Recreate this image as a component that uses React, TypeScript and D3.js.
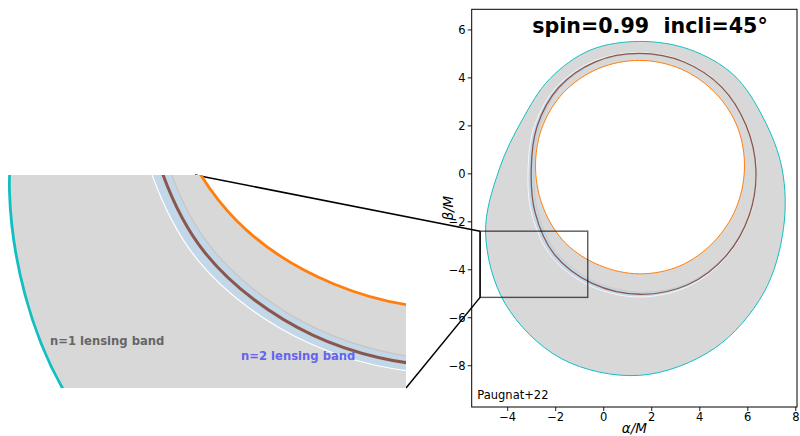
import React from 'react';
import * as d3 from 'd3';

type P = [number, number];

const titleText = 'spin=0.99\u00A0\u00A0incli=45°';
const creditText = 'Paugnat+22';
const xLabel = 'α/M';
const yLabel = 'β/M';
const n1Label = 'n=1 lensing band';
const n2Label = 'n=2 lensing band';

const xTicks = [-4, -2, 0, 2, 4, 6, 8];
const yTicks = [-8, -6, -4, -2, 0, 2, 4, 6];
const xDomain: P = [-5.5, 8.05];
const yDomain: P = [-9.72, 6.86];

// All closed curves are read as radius (in M) at fixed polar angles (degrees)
// around the point curveCenter.
const curveCenter: P = [1.5, 0.2];
const angles = [0, 22.5, 45, 67.5, 90, 112.5, 135, 157.5, 180, 202.5, 225, 247.5, 270, 292.5, 315, 337.5];

// outer edge of the n=1 lensing band (cyan)
const n1OuterR = [5.93, 5.57, 5.54, 5.4, 5.32, 5.37, 5.31, 5.31, 5.85, 6.95, 7.93, 8.55, 8.6, 8.1, 7.3, 6.48];
// inner edge of the n=1 lensing band (orange)
const n1InnerR = [4.36, 4.43, 4.47, 4.51, 4.53, 4.53, 4.5, 4.42, 4.34, 4.33, 4.37, 4.35, 4.37, 4.37, 4.33, 4.33];
// critical curve (brown)
const critR = [4.84, 4.79, 4.83, 4.83, 4.82, 4.84, 4.79, 4.63, 4.52, 4.72, 5.03, 5.16, 5.22, 5.22, 5.1, 4.95];
// n=2 lensing band: widths outside / inside the critical curve
const n2OuterW = [0.02, 0.02, 0.02, 0.025, 0.03, 0.05, 0.08, 0.11, 0.13, 0.15, 0.15, 0.13, 0.11, 0.07, 0.04, 0.025];
const n2InnerW = [0.02, 0.02, 0.02, 0.02, 0.025, 0.04, 0.06, 0.09, 0.11, 0.12, 0.12, 0.11, 0.09, 0.06, 0.035, 0.02];

// zoom rectangle drawn on the main panel
const zoomX: P = [-5.15, -0.667];
const zoomY: P = [-5.15, -2.39];
// region shown in the inset
const insetX: P = [-5.06, 0.893];
const insetY: P = [-5.343, -2.22];

const C = {
  fill: '#d8d8d8',
  band2: '#c2d7e8',
  cyan: '#12bfc0',
  orange: '#ff7f0e',
  brown: '#8c564b',
  inner2: '#c9c5c2',
  n1Text: '#666666',
  n2Text: '#6464ee',
};

const FONT = 'DejaVu Sans, sans-serif';

function toPoints(radii: number[]): P[] {
  return radii.map((r, i) => {
    const a = (angles[i] * Math.PI) / 180;
    return [curveCenter[0] + r * Math.cos(a), curveCenter[1] + r * Math.sin(a)] as P;
  });
}

const n1Outer = toPoints(n1OuterR);
const n1Inner = toPoints(n1InnerR);
const critCurve = toPoints(critR);
const n2Outer = toPoints(critR.map((r, i) => r + n2OuterW[i]));
const n2Inner = toPoints(critR.map((r, i) => r - n2InnerW[i]));

function Curves({ x, y, inset }: { x: d3.ScaleLinear<number, number>; y: d3.ScaleLinear<number, number>; inset: boolean }) {
  const line = d3
    .line<P>()
    .x((d) => x(d[0]))
    .y((d) => y(d[1]))
    .curve(d3.curveCatmullRomClosed.alpha(0.5));
  const outer = line(n1Outer) || '';
  const inner = line(n1Inner) || '';
  const b2o = line(n2Outer) || '';
  const b2i = line(n2Inner) || '';
  const lw = inset ? 2.8 : 1;
  return (
    <g>
      <path d={outer + inner} fill={C.fill} fillRule="evenodd" stroke="none" />
      <path d={b2o + b2i} fill={C.band2} fillRule="evenodd" stroke="none" />
      <path d={b2o} fill="none" stroke="#ffffff" strokeWidth={inset ? 1.2 : 0.8} />
      <path d={b2i} fill="none" stroke={C.inner2} strokeWidth={inset ? 1.2 : 0.7} />
      <path d={line(critCurve) || ''} fill="none" stroke={C.brown} strokeWidth={inset ? 3 : 1.3} />
      <path d={inner} fill="none" stroke={C.orange} strokeWidth={lw} />
      <path d={outer} fill="none" stroke={C.cyan} strokeWidth={lw} />
    </g>
  );
}

export default function App() {
  const W = 800;
  const H = 436;
  const ax = { l: 471.7, r: 797, t: 9.3, b: 407 };
  const x = d3.scaleLinear().domain(xDomain).range([ax.l, ax.r]);
  const y = d3.scaleLinear().domain(yDomain).range([ax.b, ax.t]);

  const ins = { l: 0, r: 406, t: 175, b: 388 };
  const ix = d3.scaleLinear().domain(insetX).range([ins.l, ins.r]);
  const iy = d3.scaleLinear().domain(insetY).range([ins.b, ins.t]);

  const fmt = (v: number) => d3.format('d')(v).replace('-', '−');

  const rx0 = x(zoomX[0]);
  const rx1 = x(zoomX[1]);
  const ry0 = y(zoomY[1]);
  const ry1 = y(zoomY[0]);

  return (
    <svg
      width={W}
      height={H}
      viewBox={`0 0 ${W} ${H}`}
      style={{ position: 'absolute', left: 0, top: 0, background: '#fff' }}
      fontFamily={FONT}
    >
      <defs>
        <clipPath id="mainClip">
          <rect x={ax.l} y={ax.t} width={ax.r - ax.l} height={ax.b - ax.t} />
        </clipPath>
        <clipPath id="insetClip">
          <rect x={ins.l} y={ins.t} width={ins.r - ins.l} height={ins.b - ins.t} />
        </clipPath>
      </defs>
      <rect x={0} y={0} width={W} height={H} fill="#fff" />

      {/* main panel */}
      <g clipPath="url(#mainClip)">
        <Curves x={x} y={y} inset={false} />
      </g>
      <rect x={ax.l} y={ax.t} width={ax.r - ax.l} height={ax.b - ax.t} fill="none" stroke="#000" strokeWidth={1} />

      {/* ticks */}
      {xTicks.map((t) => (
        <g key={'x' + t}>
          <line x1={x(t)} x2={x(t)} y1={ax.b} y2={ax.b + 4} stroke="#000" strokeWidth={0.9} />
          <text x={x(t)} y={420.5} fontSize={11.5} textAnchor="middle" fill="#000">
            {fmt(t)}
          </text>
        </g>
      ))}
      {yTicks.map((t) => (
        <g key={'y' + t}>
          <line x1={ax.l - 4} x2={ax.l} y1={y(t)} y2={y(t)} stroke="#000" strokeWidth={0.9} />
          <text x={ax.l - 6} y={y(t) + 4.2} fontSize={11.5} textAnchor="end" fill="#000">
            {fmt(t)}
          </text>
        </g>
      ))}
      <text x={(ax.l + ax.r) / 2} y={433} fontSize={13.5} fontStyle="italic" textAnchor="middle" fill="#000">
        {xLabel}
      </text>
      <text
        transform={`translate(452.5, ${(ax.t + ax.b) / 2}) rotate(-90)`}
        fontSize={13.5}
        fontStyle="italic"
        textAnchor="middle"
        fill="#000"
      >
        {yLabel}
      </text>

      <text x={650} y={33.3} fontSize={20.6} fontWeight="bold" textAnchor="middle" fill="#000">
        {titleText}
      </text>
      <text x={477.3} y={399} fontSize={11.5} fill="#000">
        {creditText}
      </text>

      {/* zoom rectangle */}
      <rect x={rx0} y={ry0} width={rx1 - rx0} height={ry1 - ry0} fill="none" stroke="#000" strokeOpacity={0.65} strokeWidth={1.4} />
      <line x1={rx0} x2={rx0} y1={ry0} y2={ry1} stroke="#000" strokeWidth={1.4} />

      {/* connectors */}
      <line x1={195} y1={175} x2={rx0} y2={ry0} stroke="#000" strokeWidth={1.5} />
      <line x1={ins.r} y1={ins.b} x2={rx0} y2={ry1} stroke="#000" strokeWidth={1.5} />

      {/* inset */}
      <g clipPath="url(#insetClip)">
        <Curves x={ix} y={iy} inset={true} />
      </g>
      <text x={50} y={344.5} fontSize={11.6} fontWeight="bold" fill={C.n1Text}>
        {n1Label}
      </text>
      <text x={241} y={359.8} fontSize={11.6} fontWeight="bold" fill={C.n2Text}>
        {n2Label}
      </text>
    </svg>
  );
}
